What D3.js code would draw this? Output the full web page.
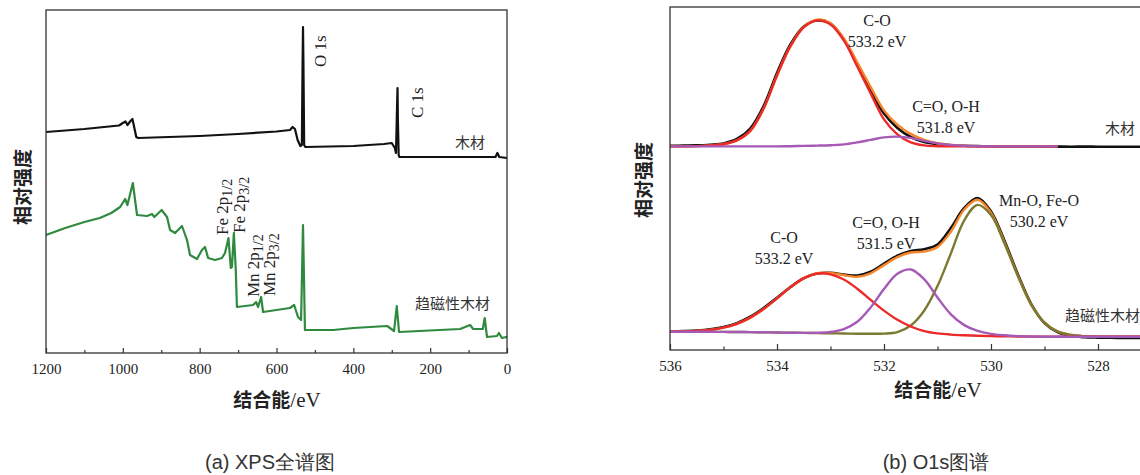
<!DOCTYPE html>
<html lang="en">
    <head>
        <meta charset="utf-8">
        <title>XPS</title>
    <script type="text/javascript" src="https://d3js.org/d3.v7.min.js"></script>
    <style>
        body { margin: 0; background: #fff; overflow: hidden; }
        svg { display: block; }
        .lbl { font-family: "Liberation Serif", serif; font-size: 16px; fill: #222; }
        .cn { font-family: "Noto Sans CJK SC", sans-serif; font-size: 15px; fill: #333; }
        .title { font-family: "Noto Sans CJK SC", sans-serif; font-size: 19px; font-weight: 700; fill: #222; }
        .cap { font-family: "Liberation Sans", sans-serif; font-size: 20px; fill: #333; }
    </style>
    </head>
    <body>
        <div id="chart"></div>
    </body>
    <script type="text/javascript">
        // ---- (a) survey spectra: binding energy (eV) / intensity
        const woodE = [1200,1100,1010,1000,993,988,980,975,970,965,960,800,700,600,565,558,552,545,538,534,532,531,530,528,525,400,320,300,292,289,287,285,284,282,280,100,30,25,20,0];
        const woodI = [221,224,227.5,230,231.5,228,232,234,225,216,215,217,219,221.5,223,226,224,213,207,208,293,326,293,208,206,207,209,210,205,200,233,265,233,198,196,196,196,200,196,195];
        const magE = [1200,1150,1100,1060,1030,1007,994,988,974,963,937,924,918,899,885,877,864,846,833,825,807,794,786,778,760,742,734,725,719,716,711,706,703,661,653,648,640,635,565,554,544,536,531,526,452,400,312,294,287,281,122,96,88,63,58,52,26,21,13,2,0];
        const magI = [118,125,131,135,140,146,154,148,170,138,137,139,136,143,136,123,120,127,113,98,94,103,106,95,93,95,100,115,85,86,120,83,46,48,51,46,56,41,45,48,36,33,128,23,23,25,27,22,47,21,24,28,24,24,35,16,17,20,15,16,15.5];
        const surveyTicks = [1200, 1000, 800, 600, 400, 200, 0];
        const surveyMinor = [1100, 900, 700, 500, 300, 100];

        // ---- (b) O1s spectra
        const o1sE = [536,535.75,535.5,535.25,535,534.75,534.5,534.25,534,533.75,533.5,533.25,533,532.75,532.5,532.25,532,531.75,531.5,531.25,531,530.75,530.5,530.25,530,529.75,529.5,529.25,529,528.75,528.5,528.25,528,527.75,527.5,527.25,527];
        // wood
        const woodBase = 203.6;
        const woodRaw = [204.2,204.4,204.6,205.3,206.6,211,221.5,244,277,305.5,323.5,329.5,326.5,310.5,285,259,236.5,222,213,208,205.8,204.8,204.2,203.9,203.7,203.6,203.5,203.5,203.4,203.4,203.3,203.4,203.3,203.2,203.3,203.2,203.2];
        const woodCO = [0,0.1,0.3,1,2.2,6,15.5,38,71,100,119,126,122,106,80,53,27,12,4,1,0.2,0,0,0,0,0,0,0,0,0,0,0,0,0,0,0,0];
        const woodOH = [0,0,0,0,0,0,0,0,0,0.2,0.5,0.8,1.2,2,4,6.5,9,9.8,8.5,5.5,3,1.5,0.6,0.2,0,0,0,0,0,0,0,0,0,0,0,0,0];
        const woodFitEnd = 528.7;
        // magnetic wood
        const magBg = [18.3,18.3,18.2,18.2,18.1,18,17.9,17.7,17.5,17.3,17.1,16.9,16.7,16.5,16.3,16.1,15.9,15.7,15.5,15.3,15,14.7,14.4,14.1,13.9,13.7,13.5,13.4,13.3,13.3,13.3,13.3,13.3,13.3,13.3,13.3,13.3];
        const magRaw = [18.6,18.9,19.4,20.6,23,26.9,33.3,42,52.3,63,71.8,76.5,77.2,75.4,74.5,78.4,86.3,94.2,99,100.8,105.5,122,142,152,138.6,109.5,76,46.2,27,17.6,14,12.8,12.4,12.2,12.1,12,12];
        const magCO = [0.1,0.3,0.8,1.9,4.2,8.1,14.5,23.3,34.1,45.3,54.5,59.5,59,54,45,34,23.5,14.5,8,3.6,1.6,0.7,0.3,0.1,0,0,0,0,0,0,0,0,0,0,0,0,0];
        const magOH = [0,0,0,0,0,0,0,0,0,0,0,0.3,1.3,4.4,11.9,26.5,45,60.5,65,55.5,37.5,21,10.5,5,2.2,1,0.4,0.1,0,0,0,0,0,0,0,0,0];
        const magMO = [0,0,0,0,0,0,0,0,0,0,0,0,0,0,0,0.1,0.5,2.2,9,24,49,81.9,115.3,131,121,93.1,60.8,32,14,5,1.7,0.5,0.1,0,0,0,0];
        const o1sTicks = [536, 534, 532, 530, 528];
        const o1sMinor = [535, 533, 531, 529, 527];

        const width = 1140;
        const height = 475;

        const svg = d3.select("#chart")
            .append("svg")
            .attr("width", width)
            .attr("height", height);

        svg.append("rect").attr("width", width).attr("height", height).attr("fill", "#fff");

        // style the axis text (d3 sets sans-serif 10px on the group)
        function styleAxis(g) {
            g.select(".domain").remove();
            g.selectAll(".tick line").attr("stroke", "#333").attr("stroke-width", 1.2);
            g.selectAll(".tick text")
                .style("font-family", "'Liberation Serif', serif")
                .style("font-size", "15px")
                .attr("fill", "#222");
        }

        // ================= (a) =================
        const xL = d3.scaleLinear().domain([1200, 0]).range([46, 507]);
        const yL = d3.scaleLinear().domain([0, 343]).range([353, 10]);

        const lineL = d3.line().x(d => xL(d[0])).y(d => yL(d[1]));

        svg.append("path")
            .datum(d3.zip(magE, magI))
            .attr("d", lineL)
            .attr("fill", "none")
            .attr("stroke", "#2f8a3f")
            .attr("stroke-width", 2.2)
            .attr("stroke-linejoin", "round");

        svg.append("path")
            .datum(d3.zip(woodE, woodI))
            .attr("d", lineL)
            .attr("fill", "none")
            .attr("stroke", "#111")
            .attr("stroke-width", 2.2)
            .attr("stroke-linejoin", "round");

        svg.append("g")
            .attr("transform", `translate(0, ${yL(0)})`)
            .call(d3.axisBottom(xL).tickValues(surveyMinor).tickSize(-3).tickFormat(""))
            .call(styleAxis);
        svg.append("g")
            .attr("transform", `translate(0, ${yL(0)})`)
            .call(d3.axisBottom(xL).tickValues(surveyTicks).tickSize(-5).tickPadding(10).tickFormat(d3.format("d")))
            .call(styleAxis);

        svg.append("rect")
            .attr("x", xL(1200)).attr("y", yL(343))
            .attr("width", xL(0) - xL(1200)).attr("height", yL(0) - yL(343))
            .attr("fill", "none").attr("stroke", "#333").attr("stroke-width", 1.3);

        // peak labels (rotated)
        function vlabel(x, y, main, sub) {
            const t = svg.append("text")
                .attr("transform", `translate(${x}, ${y}) rotate(-90)`)
                .attr("class", "lbl")
                .style("font-size", "17px")
                .text(main);
            if (sub) {
                t.append("tspan").attr("dy", 4).style("font-size", "14px").text(sub);
            }
        }
        vlabel(326, 67, "O 1s");
        vlabel(423, 118, "C 1s");
        vlabel(228, 235, "Fe 2p", "1/2");
        vlabel(245, 233, "Fe 2p", "3/2");
        vlabel(259, 297, "Mn 2p", "1/2");
        vlabel(275, 296, "Mn 2p", "3/2");

        svg.append("text").attr("class", "cn").attr("x", 455).attr("y", 148).text("木材");
        svg.append("text").attr("class", "cn").attr("x", 415).attr("y", 309).text("趋磁性木材");

        // ================= (b) =================
        const xR = d3.scaleLinear().domain([536, 527]).range([670, 1151.5]);
        const yR = d3.scaleLinear().domain([0, 343]).range([350, 7]);

        const lineR = d3.line()
            .defined(d => d[1] != null)
            .x(d => xR(d[0])).y(d => yR(d[1]))
            .curve(d3.curveCatmullRom.alpha(0.5));

        function drawR(values, color, w) {
            svg.append("path")
                .datum(d3.zip(o1sE, values))
                .attr("d", lineR)
                .attr("fill", "none")
                .attr("stroke", color)
                .attr("stroke-width", w)
                .attr("stroke-linejoin", "round");
        }

        const cut = (v, i) => o1sE[i] >= woodFitEnd ? v : null;
        const woodFit = o1sE.map((e, i) => cut(woodBase + woodCO[i] + woodOH[i], i));
        const woodCOline = o1sE.map((e, i) => cut(woodBase + woodCO[i], i));
        const woodOHline = o1sE.map((e, i) => cut(woodBase + woodOH[i], i));

        const magFit = magBg.map((b, i) => b + magCO[i] + magOH[i] + magMO[i]);
        const magCOline = magBg.map((b, i) => b + magCO[i]);
        const magOHline = magBg.map((b, i) => b + magOH[i]);
        const magMOline = magBg.map((b, i) => b + magMO[i]);

        drawR(woodRaw, "#111", 2.6);
        drawR(woodFit, "#f7862a", 2.4);
        drawR(woodCOline, "#ec2a2a", 2.4);
        drawR(woodOHline, "#a659b5", 2.4);

        drawR(magRaw, "#111", 2.6);
        drawR(magFit, "#f7862a", 2.4);
        drawR(magMOline, "#7a7b30", 2.4);
        drawR(magCOline, "#ec2a2a", 2.4);
        drawR(magOHline, "#a659b5", 2.4);

        svg.append("g")
            .attr("transform", `translate(0, ${yR(0)})`)
            .call(d3.axisBottom(xR).tickValues(o1sMinor).tickSize(-3.5).tickFormat(""))
            .call(styleAxis);
        svg.append("g")
            .attr("transform", `translate(0, ${yR(0)})`)
            .call(d3.axisBottom(xR).tickValues(o1sTicks).tickSize(-6).tickPadding(10).tickFormat(d3.format("d")))
            .call(styleAxis);

        svg.append("rect")
            .attr("x", xR(536)).attr("y", yR(343))
            .attr("width", xR(527) - xR(536)).attr("height", yR(0) - yR(343))
            .attr("fill", "none").attr("stroke", "#333").attr("stroke-width", 1.3);

        function clabel(x, y, lines) {
            lines.forEach((s, i) => {
                svg.append("text").attr("class", "lbl")
                    .attr("x", x).attr("y", y + i * 21)
                    .attr("text-anchor", "middle").text(s);
            });
        }
        clabel(877, 26, ["C-O", "533.2 eV"]);
        clabel(946, 112, ["C=O, O-H", "531.8 eV"]);
        clabel(784, 243, ["C-O", "533.2 eV"]);
        clabel(886, 228, ["C=O, O-H", "531.5 eV"]);
        clabel(1039, 206, ["Mn-O, Fe-O", "530.2 eV"]);

        svg.append("text").attr("class", "cn").attr("x", 1105).attr("y", 134).text("木材");
        svg.append("text").attr("class", "cn").attr("x", 1065).attr("y", 321).text("趋磁性木材");

        // ---- axis titles
        function ytitle(x, y) {
            svg.append("text").attr("class", "title")
                .attr("transform", `translate(${x}, ${y}) rotate(-90)`)
                .attr("text-anchor", "middle")
                .text("相对强度");
        }
        ytitle(30, 187);
        ytitle(651, 180);

        function xtitle(x, y) {
            const t = svg.append("text").attr("class", "title")
                .attr("x", x).attr("y", y).attr("text-anchor", "middle")
                .text("结合能");
            t.append("tspan")
                .style("font-family", "'Liberation Serif', serif")
                .style("font-size", "21px")
                .style("font-weight", "400")
                .text("/eV");
        }
        xtitle(277, 407);
        xtitle(938, 397);

        svg.append("text").attr("class", "cap").attr("x", 270).attr("y", 469)
            .attr("text-anchor", "middle").text("(a) XPS全谱图");
        svg.append("text").attr("class", "cap").attr("x", 936).attr("y", 469)
            .attr("text-anchor", "middle").text("(b) O1s图谱");
    </script>
</html>
